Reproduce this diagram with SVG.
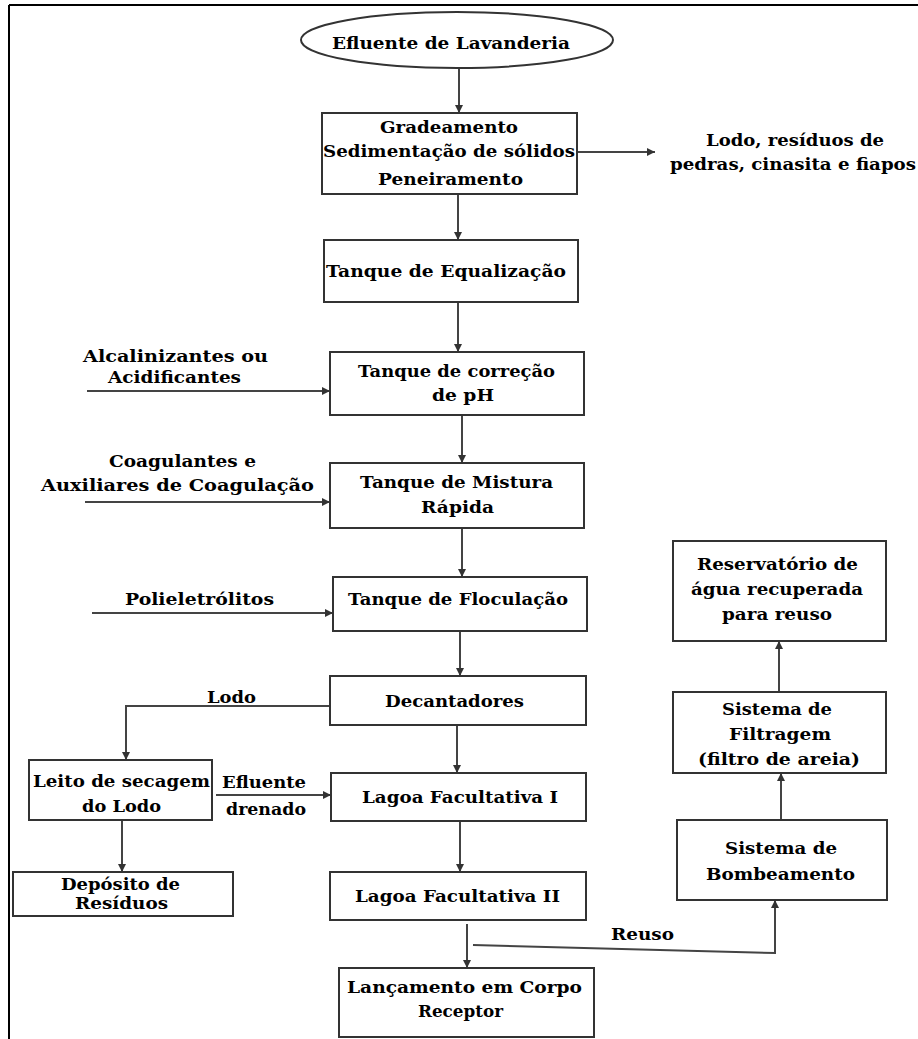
<svg xmlns="http://www.w3.org/2000/svg" width="918" height="1039" viewBox="0 0 918 1039">
<defs>
<style>
.bx{fill:#fff;stroke:#333;stroke-width:2}
.ln{fill:none;stroke:#444;stroke-width:2}
text{font-family:"DejaVu Serif","Liberation Serif",serif;font-weight:bold;font-size:17px;fill:#000}
</style>
<marker id="ah" markerUnits="userSpaceOnUse" markerWidth="9" markerHeight="8" refX="8" refY="4" orient="auto">
<path d="M0,0 L8,4 L0,8 z" fill="#333"/>
</marker>
</defs>
<rect x="0" y="0" width="918" height="1039" fill="#fff"/>
<g id="frame">
<line x1="9" y1="5" x2="918" y2="5" stroke="#000" stroke-width="2"/>
<line x1="9" y1="5" x2="9" y2="1039" stroke="#000" stroke-width="2"/>
</g>
<g id="connectors">
<line class="ln" x1="459" y1="68" x2="459" y2="113" marker-end="url(#ah)"/>
<line class="ln" x1="458" y1="194" x2="458" y2="240" marker-end="url(#ah)"/>
<line class="ln" x1="577" y1="152" x2="655" y2="152" marker-end="url(#ah)"/>
<line class="ln" x1="458" y1="302" x2="458" y2="352" marker-end="url(#ah)"/>
<line class="ln" x1="87" y1="391" x2="330" y2="391" marker-end="url(#ah)"/>
<line class="ln" x1="462" y1="415" x2="462" y2="463" marker-end="url(#ah)"/>
<line class="ln" x1="85" y1="502" x2="330" y2="502" marker-end="url(#ah)"/>
<line class="ln" x1="462" y1="528" x2="462" y2="577" marker-end="url(#ah)"/>
<line class="ln" x1="92" y1="613" x2="333" y2="613" marker-end="url(#ah)"/>
<line class="ln" x1="460" y1="631" x2="460" y2="676" marker-end="url(#ah)"/>
<polyline class="ln" points="330,706 126,706 126,760" marker-end="url(#ah)"/>
<line class="ln" x1="457" y1="725" x2="457" y2="773" marker-end="url(#ah)"/>
<line class="ln" x1="216" y1="795" x2="331" y2="795" marker-end="url(#ah)"/>
<line class="ln" x1="122" y1="820" x2="122" y2="872" marker-end="url(#ah)"/>
<line class="ln" x1="460" y1="821" x2="460" y2="872" marker-end="url(#ah)"/>
<line class="ln" x1="467" y1="924" x2="467" y2="968" marker-end="url(#ah)"/>
<polyline class="ln" points="473,945 775,953 775,900" marker-end="url(#ah)"/>
<line class="ln" x1="781" y1="820" x2="781" y2="773" marker-end="url(#ah)"/>
<line class="ln" x1="779" y1="692" x2="779" y2="641" marker-end="url(#ah)"/>
<text x="207" y="703" textLength="49" lengthAdjust="spacingAndGlyphs">Lodo</text>
<text x="222" y="788" textLength="84" lengthAdjust="spacingAndGlyphs">Efluente</text>
<text x="226" y="815" textLength="80" lengthAdjust="spacingAndGlyphs">drenado</text>
<text x="611" y="940" textLength="63" lengthAdjust="spacingAndGlyphs">Reuso</text>
</g>
<g id="n_efluente">
<ellipse cx="457" cy="40" rx="156" ry="28" class="bx"/>
<text x="332" y="49" textLength="238" lengthAdjust="spacingAndGlyphs">Efluente de Lavanderia</text>
</g>
<g id="n_gradeamento">
<rect x="322" y="113" width="255" height="81" class="bx"/>
<text x="380" y="133" textLength="138" lengthAdjust="spacingAndGlyphs">Gradeamento</text>
<text x="323" y="157" textLength="252" lengthAdjust="spacingAndGlyphs">Sedimentação de sólidos</text>
<text x="378" y="185" textLength="145" lengthAdjust="spacingAndGlyphs">Peneiramento</text>
</g>
<g id="n_lodo_residuos">
<text x="706" y="146" textLength="178" lengthAdjust="spacingAndGlyphs">Lodo, resíduos de</text>
<text x="670" y="170" textLength="246" lengthAdjust="spacingAndGlyphs">pedras, cinasita e fiapos</text>
</g>
<g id="n_equalizacao">
<rect x="324" y="240" width="254" height="62" class="bx"/>
<text x="326" y="277" textLength="240" lengthAdjust="spacingAndGlyphs">Tanque de Equalização</text>
</g>
<g id="n_alcalinizantes">
<text x="83" y="362" textLength="185" lengthAdjust="spacingAndGlyphs">Alcalinizantes ou</text>
<text x="108" y="383" textLength="133" lengthAdjust="spacingAndGlyphs">Acidificantes</text>
</g>
<g id="n_ph">
<rect x="330" y="352" width="254" height="63" class="bx"/>
<text x="358" y="377" textLength="197" lengthAdjust="spacingAndGlyphs">Tanque de correção</text>
<text x="432" y="401" textLength="62" lengthAdjust="spacingAndGlyphs">de pH</text>
</g>
<g id="n_coagulantes">
<text x="109" y="467" textLength="147" lengthAdjust="spacingAndGlyphs">Coagulantes e</text>
<text x="41" y="491" textLength="273" lengthAdjust="spacingAndGlyphs">Auxiliares de Coagulação</text>
</g>
<g id="n_mistura">
<rect x="330" y="463" width="254" height="65" class="bx"/>
<text x="360" y="488" textLength="193" lengthAdjust="spacingAndGlyphs">Tanque de Mistura</text>
<text x="421" y="513" textLength="73" lengthAdjust="spacingAndGlyphs">Rápida</text>
</g>
<g id="n_polieletrolitos">
<text x="125" y="605" textLength="149" lengthAdjust="spacingAndGlyphs">Polieletrólitos</text>
</g>
<g id="n_floculacao">
<rect x="333" y="577" width="254" height="54" class="bx"/>
<text x="348" y="605" textLength="220" lengthAdjust="spacingAndGlyphs">Tanque de Floculação</text>
</g>
<g id="n_decantadores">
<rect x="330" y="676" width="256" height="49" class="bx"/>
<text x="385" y="707" textLength="139" lengthAdjust="spacingAndGlyphs">Decantadores</text>
</g>
<g id="n_leito">
<rect x="29" y="760" width="183" height="60" class="bx"/>
<text x="33" y="787" textLength="177" lengthAdjust="spacingAndGlyphs">Leito de secagem</text>
<text x="82" y="812" textLength="79" lengthAdjust="spacingAndGlyphs">do Lodo</text>
</g>
<g id="n_lagoa1">
<rect x="331" y="773" width="255" height="48" class="bx"/>
<text x="362" y="803" textLength="196" lengthAdjust="spacingAndGlyphs">Lagoa Facultativa I</text>
</g>
<g id="n_deposito">
<rect x="13" y="872" width="220" height="44" class="bx"/>
<text x="61" y="890" textLength="119" lengthAdjust="spacingAndGlyphs">Depósito de</text>
<text x="75" y="909" textLength="93" lengthAdjust="spacingAndGlyphs">Resíduos</text>
</g>
<g id="n_lagoa2">
<rect x="330" y="872" width="256" height="48" class="bx"/>
<text x="355" y="902" textLength="205" lengthAdjust="spacingAndGlyphs">Lagoa Facultativa II</text>
</g>
<g id="n_lancamento">
<rect x="339" y="968" width="255" height="69" class="bx"/>
<text x="347" y="993" textLength="235" lengthAdjust="spacingAndGlyphs">Lançamento em Corpo</text>
<text x="418" y="1017" textLength="85" lengthAdjust="spacingAndGlyphs">Receptor</text>
</g>
<g id="n_bombeamento">
<rect x="677" y="820" width="210" height="80" class="bx"/>
<text x="725" y="854" textLength="112" lengthAdjust="spacingAndGlyphs">Sistema de</text>
<text x="706" y="880" textLength="149" lengthAdjust="spacingAndGlyphs">Bombeamento</text>
</g>
<g id="n_filtragem">
<rect x="673" y="692" width="213" height="81" class="bx"/>
<text x="722" y="715" textLength="110" lengthAdjust="spacingAndGlyphs">Sistema de</text>
<text x="729" y="740" textLength="102" lengthAdjust="spacingAndGlyphs">Filtragem</text>
<text x="698" y="765" textLength="162" lengthAdjust="spacingAndGlyphs">(filtro de areia)</text>
</g>
<g id="n_reservatorio">
<rect x="673" y="541" width="213" height="100" class="bx"/>
<text x="697" y="570" textLength="161" lengthAdjust="spacingAndGlyphs">Reservatório de</text>
<text x="691" y="595" textLength="172" lengthAdjust="spacingAndGlyphs">água recuperada</text>
<text x="722" y="620" textLength="110" lengthAdjust="spacingAndGlyphs">para reuso</text>
</g>
</svg>
